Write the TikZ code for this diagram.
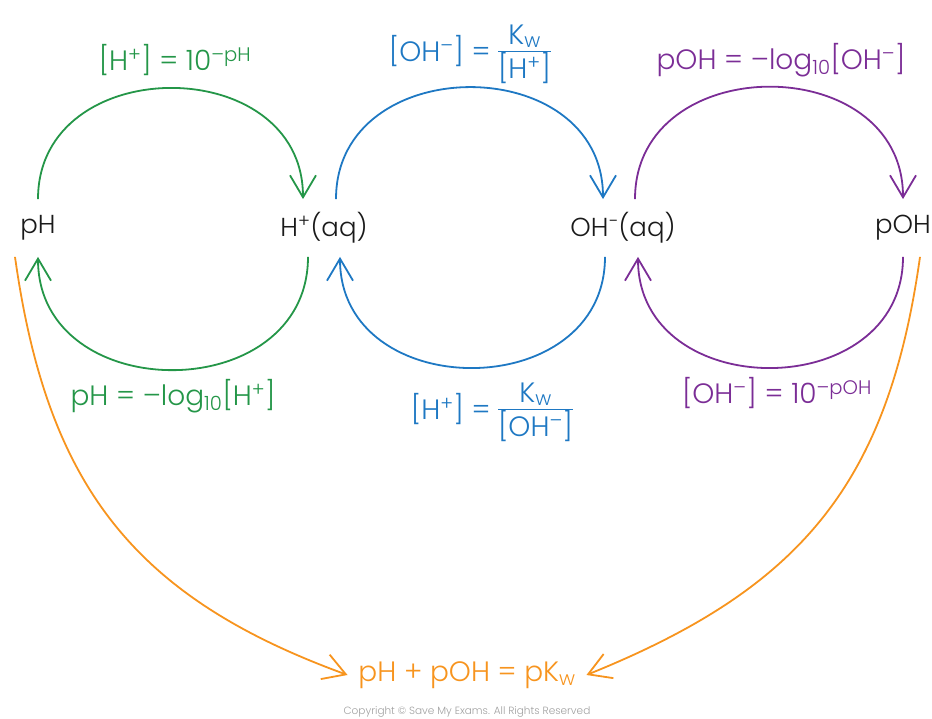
\documentclass[tikz,border=0pt]{standalone}
\usepackage{fontspec}
\setmainfont{Poppins}[UprightFont=* Light]
\usetikzlibrary{arrows.meta, positioning}
\definecolor{cgreen}{HTML}{249648}
\definecolor{cblue}{HTML}{1E78C3}
\definecolor{cpurple}{HTML}{7B2D96}
\definecolor{corange}{HTML}{F7941E}
\definecolor{cink}{HTML}{1A1A1A}
\definecolor{cgrey}{HTML}{A0A0A0}
\newcommand{\kwfrac}[2]{\setlength{\arrayrulewidth}{1.6pt}\begin{tabular}{@{}c@{}}#1\\[-3pt]\hline #2\end{tabular}}
\tikzset{
  every picture/.style={line width=1.8pt},
  species/.style={font=\fontsize{26}{30}\selectfont, text=cink, inner sep=0pt, minimum height=56pt},
  eq/.style={font=\fontsize{28}{32}\selectfont, text=#1, inner sep=2pt, align=center},
  arrow/.style={-{Straight Barb[length=22pt, width=26pt]}, draw=#1, line width=1.8pt},
  copy/.style={font=\fontsize{10.5}{12}\selectfont, text=cgrey},
}

\begin{document}
\begin{tikzpicture}[x=1pt, y=1pt]
  \useasboundingbox (0,0) rectangle (932,719);
  % ---------- species ----------
  \node[species] (ph) at (38, 491) {pH};
  \node[species] (hp) at (324, 491) {H\textsuperscript{+}(aq)};
  \node[species] (oh) at (623, 491) {OH\textsuperscript{−}(aq)};
  \node[species] (poh) at (903, 491) {pOH};
  % ---------- pH <-> H+ ----------
  \draw[arrow=cgreen] (ph.north) to[out=90, in=90, looseness=1.43] ([xshift=-21pt]hp.north);
  \draw[arrow=cgreen] ([xshift=-16pt]hp.south) to[out=-90, in=-90, looseness=1.43] (ph.south);
  \node[eq=cgreen] (hfromph) at (175, 659) {[H\textsuperscript{+}] = 10\textsuperscript{–pH}};
  \node[eq=cgreen] (phfromh) at (173, 323) {pH = –log\textsubscript{10}[H\textsuperscript{+}]};
  % ---------- H+ <-> OH- ----------
  \draw[arrow=cblue] ([xshift=12pt]hp.north) to[out=90, in=90, looseness=1.43] ([xshift=-20pt]oh.north);
  \draw[arrow=cblue] ([xshift=-18pt]oh.south) to[out=-90, in=-90, looseness=1.43] ([xshift=16pt]hp.south);
  \node[eq=cblue] (ohfromh) at (470, 664) {[OH\textsuperscript{–}] = \kwfrac{K\textsubscript{w}}{[H\textsuperscript{+}]}};
  \node[eq=cblue] (hfromoh) at (492, 306) {[H\textsuperscript{+}] = \kwfrac{K\textsubscript{w}}{[OH\textsuperscript{–}]}};
  % ---------- OH- <-> pOH ----------
  \draw[arrow=cpurple] ([xshift=12pt]oh.north) to[out=90, in=90, looseness=1.43] (poh.north);
  \draw[arrow=cpurple] (poh.south) to[out=-90, in=-90, looseness=1.43] ([xshift=15pt]oh.south);
  \node[eq=cpurple] (pohfromoh) at (781, 659) {pOH = –log\textsubscript{10}[OH\textsuperscript{–}]};
  \node[eq=cpurple] (ohfrompoh) at (777, 326) {[OH\textsuperscript{–}] = 10\textsuperscript{–pOH}};
  % ---------- pKw ----------
  \node[eq=corange, inner sep=10pt] (sum) at (467, 44) {pH + pOH = pK\textsubscript{w}};
  \draw[arrow=corange] ([xshift=-23pt]ph.south) to[out=-82, in=160, looseness=1.1] (sum.west);
  \draw[arrow=corange] ([xshift=17pt]poh.south) to[out=-98, in=22, looseness=1.1] (sum.east);
  \node[copy] (rights) at (467, 7) {Copyright © Save My Exams. All Rights Reserved};
\end{tikzpicture}
\end{document}
